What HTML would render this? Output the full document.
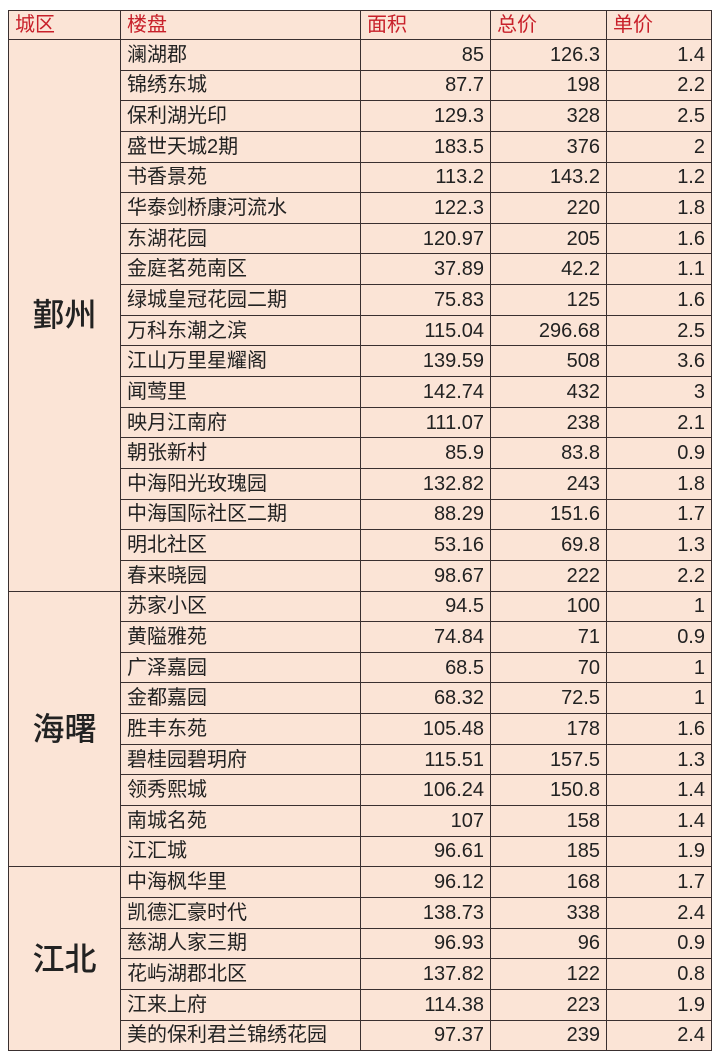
<!DOCTYPE html>
<html><head><meta charset="utf-8"><style>
body{margin:0;background:#fff;width:720px;height:1057px;overflow:hidden;}
table{position:absolute;left:8px;top:10px;border-collapse:collapse;background:#fbe4d6;font-family:"Liberation Sans","Noto Sans CJK SC",sans-serif;font-size:20px;color:#222;table-layout:fixed;}
td{border:1.5px solid #3a3030;padding:0 6px;height:29.65px;line-height:28px;white-space:nowrap;overflow:hidden;}
tr.h td{color:#c8202a;height:26px;}
td.n{text-align:right;}
td.r{font-size:32px;text-align:center;vertical-align:middle;font-weight:500;}
</style></head><body>
<table>
<colgroup><col style="width:112px"><col style="width:240px"><col style="width:130px"><col style="width:116px"><col style="width:105px"></colgroup>
<tr class="h"><td>城区</td><td>楼盘</td><td>面积</td><td>总价</td><td>单价</td></tr>
<tr><td class="r" rowspan="18">鄞州</td><td>澜湖郡</td><td class="n">85</td><td class="n">126.3</td><td class="n">1.4</td></tr>
<tr><td>锦绣东城</td><td class="n">87.7</td><td class="n">198</td><td class="n">2.2</td></tr>
<tr><td>保利湖光印</td><td class="n">129.3</td><td class="n">328</td><td class="n">2.5</td></tr>
<tr><td>盛世天城2期</td><td class="n">183.5</td><td class="n">376</td><td class="n">2</td></tr>
<tr><td>书香景苑</td><td class="n">113.2</td><td class="n">143.2</td><td class="n">1.2</td></tr>
<tr><td>华泰剑桥康河流水</td><td class="n">122.3</td><td class="n">220</td><td class="n">1.8</td></tr>
<tr><td>东湖花园</td><td class="n">120.97</td><td class="n">205</td><td class="n">1.6</td></tr>
<tr><td>金庭茗苑南区</td><td class="n">37.89</td><td class="n">42.2</td><td class="n">1.1</td></tr>
<tr><td>绿城皇冠花园二期</td><td class="n">75.83</td><td class="n">125</td><td class="n">1.6</td></tr>
<tr><td>万科东潮之滨</td><td class="n">115.04</td><td class="n">296.68</td><td class="n">2.5</td></tr>
<tr><td>江山万里星耀阁</td><td class="n">139.59</td><td class="n">508</td><td class="n">3.6</td></tr>
<tr><td>闻莺里</td><td class="n">142.74</td><td class="n">432</td><td class="n">3</td></tr>
<tr><td>映月江南府</td><td class="n">111.07</td><td class="n">238</td><td class="n">2.1</td></tr>
<tr><td>朝张新村</td><td class="n">85.9</td><td class="n">83.8</td><td class="n">0.9</td></tr>
<tr><td>中海阳光玫瑰园</td><td class="n">132.82</td><td class="n">243</td><td class="n">1.8</td></tr>
<tr><td>中海国际社区二期</td><td class="n">88.29</td><td class="n">151.6</td><td class="n">1.7</td></tr>
<tr><td>明北社区</td><td class="n">53.16</td><td class="n">69.8</td><td class="n">1.3</td></tr>
<tr><td>春来晓园</td><td class="n">98.67</td><td class="n">222</td><td class="n">2.2</td></tr>
<tr><td class="r" rowspan="9">海曙</td><td>苏家小区</td><td class="n">94.5</td><td class="n">100</td><td class="n">1</td></tr>
<tr><td>黄隘雅苑</td><td class="n">74.84</td><td class="n">71</td><td class="n">0.9</td></tr>
<tr><td>广泽嘉园</td><td class="n">68.5</td><td class="n">70</td><td class="n">1</td></tr>
<tr><td>金都嘉园</td><td class="n">68.32</td><td class="n">72.5</td><td class="n">1</td></tr>
<tr><td>胜丰东苑</td><td class="n">105.48</td><td class="n">178</td><td class="n">1.6</td></tr>
<tr><td>碧桂园碧玥府</td><td class="n">115.51</td><td class="n">157.5</td><td class="n">1.3</td></tr>
<tr><td>领秀熙城</td><td class="n">106.24</td><td class="n">150.8</td><td class="n">1.4</td></tr>
<tr><td>南城名苑</td><td class="n">107</td><td class="n">158</td><td class="n">1.4</td></tr>
<tr><td>江汇城</td><td class="n">96.61</td><td class="n">185</td><td class="n">1.9</td></tr>
<tr><td class="r" rowspan="7">江北</td><td>中海枫华里</td><td class="n">96.12</td><td class="n">168</td><td class="n">1.7</td></tr>
<tr><td>凯德汇豪时代</td><td class="n">138.73</td><td class="n">338</td><td class="n">2.4</td></tr>
<tr><td>慈湖人家三期</td><td class="n">96.93</td><td class="n">96</td><td class="n">0.9</td></tr>
<tr><td>花屿湖郡北区</td><td class="n">137.82</td><td class="n">122</td><td class="n">0.8</td></tr>
<tr><td>江来上府</td><td class="n">114.38</td><td class="n">223</td><td class="n">1.9</td></tr>
<tr><td>美的保利君兰锦绣花园</td><td class="n">97.37</td><td class="n">239</td><td class="n">2.4</td></tr>
</table>
</body></html>
